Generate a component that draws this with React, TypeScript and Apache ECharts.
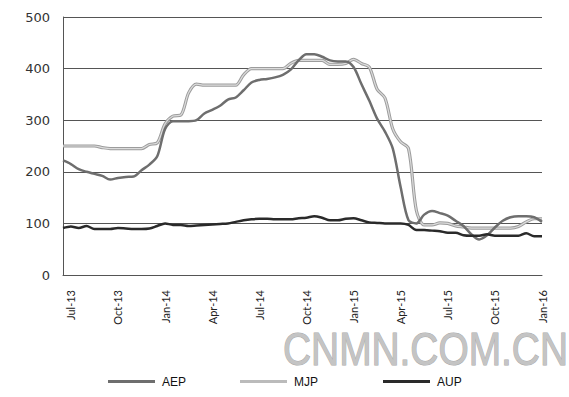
import React, { useEffect, useRef } from "react";
import * as echarts from "echarts";

// half-month periods, index 0 = mid Jun-2013, index 1 = Jul-2013 ... index 61 = Jan-2016
const tickLabels = ["Jul-13", "Oct-13", "Jan-14", "Apr-14", "Jul-14", "Oct-14", "Jan-15", "Apr-15", "Jul-15", "Oct-15", "Jan-16"];

const AEP = [222, 215, 205, 200, 196, 192, 185, 188, 190, 191, 203, 214, 230, 283, 298, 298, 298, 300, 313, 320, 328, 340, 344, 358, 373, 378, 380, 383, 388, 398, 416, 428, 428, 423, 416, 414, 414, 403, 370, 338, 303, 278, 245, 170, 106, 100, 117, 124, 120, 115, 105, 95, 79, 69, 77, 92, 105, 112, 114, 114, 112, 103];
const MJP = [250, 250, 250, 250, 250, 247, 245, 245, 245, 245, 245, 253, 256, 293, 308, 310, 353, 370, 368, 368, 368, 368, 368, 388, 400, 400, 400, 400, 400, 410, 416, 416, 416, 416, 408, 408, 410, 418, 410, 403, 360, 343, 283, 258, 245, 125, 97, 97, 101, 100, 95, 93, 91, 91, 91, 91, 91, 91, 94, 103, 109, 109];
const AUP = [91, 94, 91, 95, 89, 89, 89, 91, 90, 89, 89, 90, 95, 100, 97, 97, 95, 96, 97, 98, 99, 100, 103, 106, 108, 109, 109, 108, 108, 108, 110, 111, 114, 111, 106, 106, 109, 110, 106, 102, 101, 100, 100, 100, 97, 87, 87, 86, 85, 82, 82, 77, 76, 76, 79, 76, 76, 76, 76, 81, 75, 75];

const yTicks = [0, 100, 200, 300, 400, 500];

// categories: half-month periods; label appears every 6th period starting at index 1
const categories: string[] = AEP.map((_, i) => {
  if ((i - 1) % 6 === 0) return tickLabels[(i - 1) / 6];
  return "p" + i;
});

export default function App() {
  const ref = useRef<HTMLDivElement>(null);
  useEffect(() => {
    if (!ref.current) return;
    const chart = echarts.init(ref.current, null, { renderer: "svg" });
    const legendBase = {
      orient: "horizontal",
      top: 375.5,
      padding: 0,
      icon: "rect",
      itemWidth: 47,
      itemHeight: 3,
      itemGap: 5,
      textStyle: { fontSize: 12, color: "#111", fontFamily: "Liberation Sans", padding: [2, 0, 0, 2] },
    };
    chart.setOption({
      animation: false,
      backgroundColor: "#fff",
      grid: { left: 63, right: 27, top: 17, bottom: 122, containLabel: false },
      legend: [
        { ...legendBase, left: 108, data: [{ name: "AEP", itemStyle: { color: "#6e6e6e" } }] },
        { ...legendBase, left: 240, data: [{ name: "MJP", itemStyle: { color: "#bbbbbb" } }] },
        { ...legendBase, left: 383, data: [{ name: "AUP", itemStyle: { color: "#2a2a2a" } }] },
      ],
      xAxis: {
        type: "category",
        data: categories,
        boundaryGap: false,
        axisLine: { show: true, lineStyle: { color: "#555", width: 1 } },
        axisTick: { show: false },
        splitLine: { show: false },
        axisLabel: {
          interval: (index: number) => (index - 1) % 6 === 0,
          formatter: (v: string) => (v.startsWith("p") ? "" : v),
          rotate: 90,
          margin: 15,
          fontSize: 11,
          fontFamily: "Lato",
          color: "#222",
        },
      },
      yAxis: {
        type: "value",
        min: yTicks[0],
        max: yTicks[yTicks.length - 1],
        interval: 100,
        axisLine: { show: true, lineStyle: { color: "#555", width: 1 } },
        axisTick: { show: false },
        splitLine: { show: true, lineStyle: { color: "#555", width: 1 } },
        axisLabel: { margin: 13, fontSize: 13, fontFamily: "DejaVu Sans", color: "#333" },
      },
      series: [
        {
          name: "AEP",
          type: "line",
          data: AEP,
          showSymbol: false,
          symbol: "none",
          smooth: 0.3,
          lineStyle: { color: "#6e6e6e", width: 2.5 },
          itemStyle: { color: "#6e6e6e" },
          z: 3,
        },
        {
          name: "MJP",
          type: "line",
          data: MJP,
          showSymbol: false,
          symbol: "none",
          smooth: 0.3,
          lineStyle: { color: "#9c9c9c", width: 3.2 },
          itemStyle: { color: "#bbbbbb" },
          z: 2,
        },
        {
          name: "MJP-inner",
          type: "line",
          data: MJP,
          showSymbol: false,
          symbol: "none",
          smooth: 0.3,
          lineStyle: { color: "#dcdcdc", width: 1.2 },
          itemStyle: { color: "#dcdcdc" },
          z: 2,
          silent: true,
        },
        {
          name: "AUP",
          type: "line",
          data: AUP,
          showSymbol: false,
          symbol: "none",
          smooth: 0.3,
          lineStyle: { color: "#2a2a2a", width: 2.5 },
          itemStyle: { color: "#2a2a2a" },
          z: 4,
        },
      ],
      graphic: [
        {
          type: "text",
          x: 283,
          y: 349,
          scaleX: 0.845,
          z: 10,
          style: {
            text: "CNMN.COM.CN",
            fontSize: 46,
            fontFamily: "Liberation Sans",
            fill: "#c4c4c4",
            stroke: "#a8a8a8",
            lineWidth: 1,
            textVerticalAlign: "middle",
            verticalAlign: "middle",
            align: "left",
          },
        },
      ],
    });
    return () => chart.dispose();
  }, []);
  return <div ref={ref} style={{ width: 569, height: 397, position: "absolute", left: 0, top: 0 }} />;
}
